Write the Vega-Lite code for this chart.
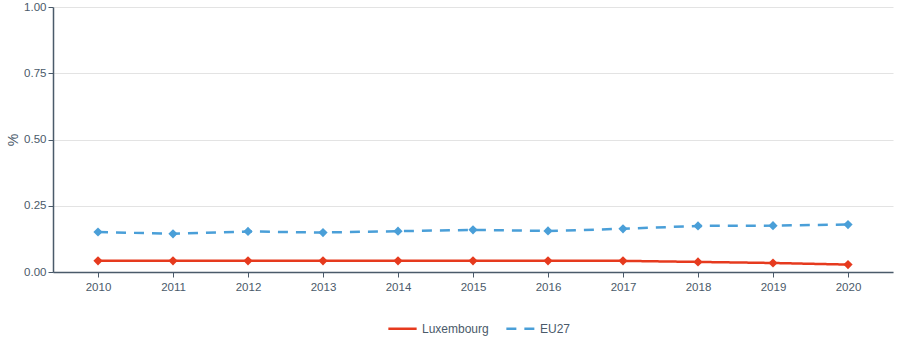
{
  "$schema": "https://vega.github.io/schema/vega-lite/v6.json",
  "width": 840,
  "height": 265,
  "autosize": {"type": "none"},
  "padding": {"left": 53, "top": 7, "right": 7, "bottom": 88},
  "background": "white",
  "config": {
    "view": {"stroke": null},
    "font": "Liberation Sans",
    "axis": {"labelFont": "Liberation Sans", "titleFont": "Liberation Sans", "labelColor": "#4a5a6a", "titleColor": "#4a5a6a", "domainColor": "#4a5a6a", "tickColor": "#4a5a6a", "labelFontSize": 11.5, "domainWidth": 1.5}
  },
  "data": {
    "values": [
      {"year": "2010", "geo": "Luxembourg", "value": 0.042},
      {"year": "2011", "geo": "Luxembourg", "value": 0.042},
      {"year": "2012", "geo": "Luxembourg", "value": 0.042},
      {"year": "2013", "geo": "Luxembourg", "value": 0.042},
      {"year": "2014", "geo": "Luxembourg", "value": 0.042},
      {"year": "2015", "geo": "Luxembourg", "value": 0.042},
      {"year": "2016", "geo": "Luxembourg", "value": 0.042},
      {"year": "2017", "geo": "Luxembourg", "value": 0.042},
      {"year": "2018", "geo": "Luxembourg", "value": 0.038},
      {"year": "2019", "geo": "Luxembourg", "value": 0.034},
      {"year": "2020", "geo": "Luxembourg", "value": 0.028},
      {"year": "2010", "geo": "EU27", "value": 0.151},
      {"year": "2011", "geo": "EU27", "value": 0.144},
      {"year": "2012", "geo": "EU27", "value": 0.153},
      {"year": "2013", "geo": "EU27", "value": 0.149},
      {"year": "2014", "geo": "EU27", "value": 0.154},
      {"year": "2015", "geo": "EU27", "value": 0.159},
      {"year": "2016", "geo": "EU27", "value": 0.155},
      {"year": "2017", "geo": "EU27", "value": 0.163},
      {"year": "2018", "geo": "EU27", "value": 0.174},
      {"year": "2019", "geo": "EU27", "value": 0.175},
      {"year": "2020", "geo": "EU27", "value": 0.179}
    ]
  },
  "encoding": {
    "x": {"field": "year", "type": "ordinal", "scale": {"type": "point", "padding": 0.6}, "axis": {"title": null, "labelAngle": 0, "grid": false, "tickSize": 5, "labelPadding": 4}},
    "y": {"field": "value", "type": "quantitative", "scale": {"domain": [0, 1]}, "axis": {"title": "%", "values": [0, 0.25, 0.5, 0.75, 1], "format": ".2f", "gridColor": "#e3e3e3", "tickSize": 5, "titleFontSize": 14, "titleFontWeight": "normal", "titlePadding": 3}},
    "color": {"field": "geo", "type": "nominal", "scale": {"domain": ["Luxembourg", "EU27"], "range": ["#e63a1e", "#4a9fd8"]}}
  },
  "layer": [
    {
      "mark": {"type": "line", "strokeWidth": 2.5},
      "encoding": {
        "strokeDash": {"field": "geo", "type": "nominal", "scale": {"domain": ["Luxembourg", "EU27"], "range": [[1, 0], [10, 8]]}},
        "color": {"field": "geo", "type": "nominal", "legend": {"title": null, "orient": "none", "legendX": 334, "legendY": 306, "direction": "horizontal", "symbolType": "stroke", "symbolSize": 800, "symbolStrokeWidth": 2.5, "labelFontSize": 12, "labelColor": "#4a5a6a", "labelFont": "Liberation Sans", "columnPadding": 12}}
      }
    },
    {
      "mark": {"type": "point", "shape": "diamond", "filled": true, "size": 85, "opacity": 1},
      "encoding": {
        "color": {"field": "geo", "type": "nominal", "legend": null}
      }
    }
  ]
}
